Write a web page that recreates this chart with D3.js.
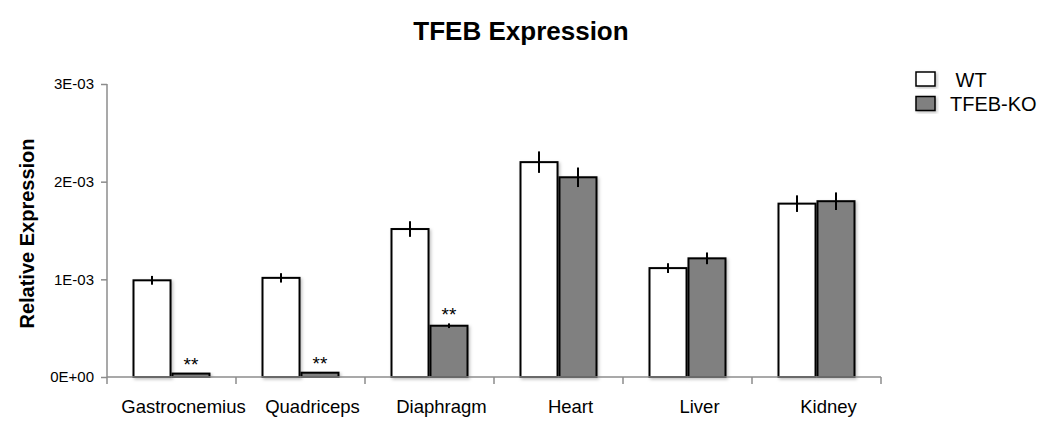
<!DOCTYPE html>
<html>
<head>
<meta charset="utf-8">
<script src="https://cdn.jsdelivr.net/npm/d3@7"></script>
<style>
  body { margin: 0; background: #fff; }
  text { font-family: "Liberation Sans", Arial, sans-serif; fill: #000; }
</style>
</head>
<body>
<svg id="chart"></svg>
<script>
const W = 1052, H = 423;

// data
var categories = ["Gastrocnemius", "Quadriceps", "Diaphragm", "Heart", "Liver", "Kidney"];
var series = ["WT", "TFEB-KO"];
var wtValues = [0.99e-3, 1.015e-3, 1.515e-3, 2.20e-3, 1.115e-3, 1.775e-3];
var wtErrors = [0.045e-3, 0.048e-3, 0.08e-3, 0.11e-3, 0.05e-3, 0.085e-3];
var koValues = [0.035e-3, 0.044e-3, 0.525e-3, 2.045e-3, 1.215e-3, 1.80e-3];
var koErrors = [0.004e-3, 0.004e-3, 0.024e-3, 0.10e-3, 0.06e-3, 0.09e-3];
var signif = ["**", "**", "**", "", "", ""];
var yTicks = [0, 1e-3, 2e-3, 3e-3];
var colors = { "WT": "#ffffff", "TFEB-KO": "#808080" };

var margin = { top: 84, right: 171, bottom: 46, left: 107 };

var svg = d3.select("#chart")
    .attr("width", W)
    .attr("height", H);

// soft shadow like the office chart
var defs = svg.append("defs");
var f = defs.append("filter").attr("id", "shadow")
    .attr("x", "-20%").attr("y", "-20%").attr("width", "140%").attr("height", "140%");
f.append("feDropShadow")
    .attr("dx", 1.5).attr("dy", 1.5).attr("stdDeviation", 1.5)
    .attr("flood-color", "#000").attr("flood-opacity", 0.25);

var x0 = d3.scaleBand()
    .domain(categories)
    .range([margin.left, W - margin.right]);

var x1 = d3.scaleBand()
    .domain(series)
    .range([0, x0.bandwidth()])
    .paddingInner(0.05)
    .paddingOuter(0.68);

var y = d3.scaleLinear()
    .domain([0, 3e-3])
    .range([H - margin.bottom, margin.top]);

function fmtExp(v) {
    var s = v.toExponential(0);          // "3e-3"
    var m = s.split("e");
    var e = parseInt(m[1]);
    var sign = e < 0 ? "-" : "+";
    var a = Math.abs(e);
    return m[0] + "E" + sign + (a < 10 ? "0" + a : a);
}

// title
svg.append("text")
    .attr("x", 521).attr("y", 40)
    .attr("text-anchor", "middle")
    .style("font-size", "26px")
    .style("font-weight", "bold")
    .text("TFEB Expression");

// y axis label
svg.append("text")
    .attr("transform", "translate(34," + (margin.top + (H - margin.bottom - margin.top) / 2 + 3) + ") rotate(-90)")
    .attr("text-anchor", "middle")
    .style("font-size", "20px")
    .style("font-weight", "bold")
    .text("Relative Expression");

// y axis
var yaxis = svg.append("g")
    .attr("transform", "translate(" + margin.left + ",0)")
    .call(d3.axisLeft(y).tickValues(yTicks).tickFormat(fmtExp).tickSize(6).tickPadding(7));
yaxis.select(".domain").attr("stroke", "#8c8c8c").attr("stroke-width", 1.5)
    .attr("d", "M0," + y(3e-3) + "V" + y(0));
yaxis.selectAll(".tick line").attr("stroke", "#8c8c8c").attr("stroke-width", 1.5);
yaxis.selectAll(".tick text")
    .style("font-size", "15px")
    .attr("fill", "#000")
    .style("font-family", "Liberation Sans, Arial, sans-serif");

// bars
var rows = categories.map(function (c, i) {
    return {
        cat: c,
        sig: signif[i],
        vals: [
            { s: "WT", v: wtValues[i], e: wtErrors[i] },
            { s: "TFEB-KO", v: koValues[i], e: koErrors[i] }
        ]
    };
});

var groups = svg.append("g").selectAll("g")
    .data(rows)
    .enter().append("g")
    .attr("transform", function (d) { return "translate(" + x0(d.cat) + ",0)"; });

groups.selectAll("rect")
    .data(function (d) { return d.vals; })
    .enter().append("rect")
    .attr("x", function (d) { return x1(d.s); })
    .attr("y", function (d) { return y(d.v); })
    .attr("width", x1.bandwidth())
    .attr("height", function (d) { return y(0) - y(d.v); })
    .attr("fill", function (d) { return colors[d.s]; })
    .attr("stroke", "#000")
    .attr("stroke-width", 2)
    .attr("filter", "url(#shadow)");

// error bars, plain vertical lines
groups.selectAll("line.err")
    .data(function (d) { return d.vals; })
    .enter().append("line")
    .attr("class", "err")
    .attr("x1", function (d) { return x1(d.s) + x1.bandwidth() / 2; })
    .attr("x2", function (d) { return x1(d.s) + x1.bandwidth() / 2; })
    .attr("y1", function (d) { return y(d.v - d.e); })
    .attr("y2", function (d) { return y(d.v + d.e); })
    .attr("stroke", "#000")
    .attr("stroke-width", 2);

// significance stars over KO bars
groups.append("text")
    .attr("x", x1("TFEB-KO") + x1.bandwidth() / 2)
    .attr("y", function (d) { return y(d.vals[1].v + d.vals[1].e) - 2; })
    .attr("text-anchor", "middle")
    .style("font-size", "19px")
    .text(function (d) { return d.sig; });

// x axis
var xaxis = svg.append("g");
xaxis.append("line")
    .attr("x1", margin.left).attr("x2", W - margin.right)
    .attr("y1", y(0)).attr("y2", y(0))
    .attr("stroke", "#8c8c8c").attr("stroke-width", 1.5);
var edges = categories.map(function (c) { return x0(c); }).concat([x0.range()[1]]);
xaxis.selectAll("line.tk")
    .data(edges)
    .enter().append("line")
    .attr("class", "tk")
    .attr("x1", function (d) { return d; }).attr("x2", function (d) { return d; })
    .attr("y1", y(0)).attr("y2", y(0) + 7)
    .attr("stroke", "#8c8c8c").attr("stroke-width", 1.5);
xaxis.selectAll("text")
    .data(categories)
    .enter().append("text")
    .attr("x", function (d) { return x0(d) + x0.bandwidth() / 2 + 12; })
    .attr("y", 413)
    .attr("text-anchor", "middle")
    .style("font-size", "18.5px")
    .text(function (d) { return d; });

// legend
var legend = svg.append("g").selectAll("g")
    .data(series)
    .enter().append("g")
    .attr("transform", function (d, i) { return "translate(916," + (72 + i * 24.5) + ")"; });
legend.append("rect")
    .attr("width", 19).attr("height", 14)
    .attr("fill", function (d) { return colors[d]; })
    .attr("stroke", "#000").attr("stroke-width", 1.5)
    .attr("filter", "url(#shadow)");
legend.append("text")
    .attr("x", 34).attr("y", 14.5)
    .style("font-size", "20px")
    .style("white-space", "pre")
    .text(function (d) { return d == "WT" ? " " + d : d; });
</script>
</body>
</html>
